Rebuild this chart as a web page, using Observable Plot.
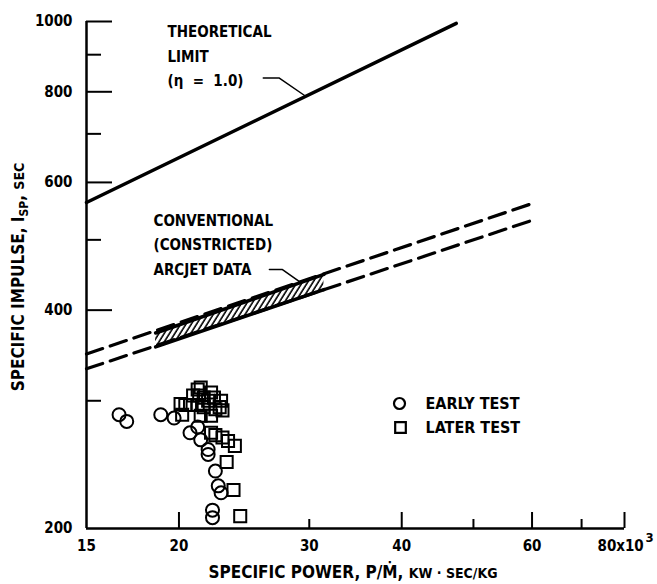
<!DOCTYPE html>
<html><head><meta charset="utf-8">
<script src="https://cdn.jsdelivr.net/npm/d3@7"></script>
<script src="https://cdn.jsdelivr.net/npm/@observablehq/plot@0.6"></script>
<style>body{margin:0;background:#fff}</style>
</head><body><div id="chart"></div>
<script>
// ---- data ----
const earlyX = [16.6, 17.0, 18.9, 19.7, 20.7, 21.2, 21.4, 21.9, 21.9, 22.4, 22.6, 22.8, 22.2, 22.2];
const earlyY = [287, 281, 287, 284, 271, 276, 265, 257, 253, 240, 229, 224, 212, 207];
const laterX = [20.1, 20.4, 20.7, 21.2, 21.6, 20.9, 21.3, 21.2, 21.4, 21.6, 22.3, 22.8, 22.7, 22.9, 22.4, 20.2, 21.4, 22.1, 21.9, 22.1, 22.1, 22.4, 22.9, 23.3, 23.8, 23.2, 23.7, 24.2];
const laterY = [297, 296, 296, 296, 294, 305, 305, 311, 313, 303, 303, 300, 294, 291, 292, 287, 286, 286, 300, 308, 271, 269, 267, 264, 260, 247, 226, 208];
const theoryX = [15, 47.4];
const theoryY = [563, 994];
const arcjetX = [15, 60];
const arcjetUpperY = [348, 561];
const arcjetLowerY = [332, 532];
const bandX = [18.6, 31.4];
const bandUpperY = [372, 448];
const bandLowerY = [356, 427];
const leaderTheory = [[26.0, 836], [27.3, 836], [29.6, 790]];
const leaderArcjet = [[26.5, 455], [27.6, 455], [29.1, 438]];
const xTicksMajor = [20, 40, 60, 80];
const xTicksMinor = [30, 50, 70];
const xTickLabels = [15, 20, 30, 40, 60];
const yTicksMajor = [400, 600, 800, 1000];
const yTicksMinor = [300, 500, 700, 900];
const yTickLabels = [200, 400, 600, 800, 1000];
const legendLabels = ["EARLY TEST", "LATER TEST"];

const early = earlyX.map((x, i) => ({x, y: earlyY[i]}));
const later = laterX.map((x, i) => ({x, y: laterY[i]}));
const theory = theoryX.map((x, i) => ({x, y: theoryY[i]}));
const upper = arcjetX.map((x, i) => ({x, y: arcjetUpperY[i]}));
const lower = arcjetX.map((x, i) => ({x, y: arcjetLowerY[i]}));
const band = bandX.map((x, i) => ({x, hi: bandUpperY[i], lo: bandLowerY[i]}));

const W = 657, H = 584, ML = 86, MR = 33, MT = 21, MB = 56;
const FW = W - ML - MR, FH = H - MT - MB;
const FONT = "'DejaVu Sans Condensed', 'DejaVu Sans', sans-serif";
const NB = "\u00A0";

const plot = Plot.plot({
  width: W, height: H,
  marginLeft: ML, marginRight: MR, marginTop: MT, marginBottom: MB,
  x: {type: "log", domain: [15, 80], axis: null},
  y: {type: "log", domain: [200, 1000], axis: null},
  style: {fontFamily: FONT, fontSize: "15px", fontWeight: "bold", color: "black", background: "white"},
  marks: [
    // hatched band
    Plot.areaY(band, {x: "x", y1: "lo", y2: "hi", fill: "url(#hatch)"}),
    Plot.line(band, {x: "x", y: "hi", stroke: "black", strokeWidth: 3.5}),
    Plot.line(band, {x: "x", y: "lo", stroke: "black", strokeWidth: 3.5}),
    // dashed arcjet lines
    Plot.line(upper, {x: "x", y: "y", stroke: "black", strokeWidth: 3.2, strokeDasharray: "17,8"}),
    Plot.line(lower, {x: "x", y: "y", stroke: "black", strokeWidth: 3.2, strokeDasharray: "17,8"}),
    // theoretical limit
    Plot.line(theory, {x: "x", y: "y", stroke: "black", strokeWidth: 3.5}),
    // leaders
    Plot.line(leaderTheory, {x: d => d[0], y: d => d[1], stroke: "black", strokeWidth: 1.5}),
    Plot.line(leaderArcjet, {x: d => d[0], y: d => d[1], stroke: "black", strokeWidth: 1.5}),
    // axes lines
    Plot.ruleX([15], {stroke: "black", strokeWidth: 2.5}),
    Plot.ruleY([200], {stroke: "black", strokeWidth: 2.5}),
    // inward ticks
    Plot.ruleX(xTicksMajor, {stroke: "black", strokeWidth: 2, insetTop: FH - 16}),
    Plot.ruleX(xTicksMinor, {stroke: "black", strokeWidth: 2, insetTop: FH - 9}),
    Plot.ruleY(yTicksMajor, {stroke: "black", strokeWidth: 2, insetRight: FW - 26}),
    Plot.ruleY(yTicksMinor, {stroke: "black", strokeWidth: 2, insetRight: FW - 15}),
    // tick labels
    Plot.text(xTickLabels, {x: d => d, frameAnchor: "bottom", lineAnchor: "middle", dy: 18, text: d => String(d)}),
    Plot.text([80], {x: d => d, frameAnchor: "bottom", lineAnchor: "middle", dy: 18, textAnchor: "start", dx: -27, text: d => d + "x10"}),
    Plot.text([80], {x: d => d, frameAnchor: "bottom", lineAnchor: "middle", dy: 9, textAnchor: "start", dx: 21, fontSize: 13, text: d => "3"}),
    Plot.text(yTickLabels, {y: d => d, frameAnchor: "left", lineAnchor: "middle", dx: -14, textAnchor: "end", text: d => String(d)}),
    // data
    Plot.dot(early, {x: "x", y: "y", symbol: "circle", r: 6.5, stroke: "black", strokeWidth: 2, fill: "none"}),
    Plot.dot(later, {x: "x", y: "y", symbol: "square", r: 6.8, stroke: "black", strokeWidth: 2, fill: "none"}),
    // annotations
    Plot.text([`THEORETICAL\nLIMIT\n(η${NB}${NB}=${NB}${NB}1.0)`], {frameAnchor: "top-left", dx: 81, dy: -1.5, lineAnchor: "top", textAnchor: "start", lineHeight: 1.62, text: d => d}),
    Plot.text(["CONVENTIONAL\n(CONSTRICTED)\nARCJET DATA"], {frameAnchor: "top-left", dx: 67, dy: 187, lineAnchor: "top", textAnchor: "start", lineHeight: 1.63, text: d => d}),
    // legend
    Plot.dot([legendLabels[0]], {frameAnchor: "top-left", dx: 313, dy: 382, symbol: "circle", r: 5.5, stroke: "black", strokeWidth: 2.2, fill: "none"}),
    Plot.dot([legendLabels[1]], {frameAnchor: "top-left", dx: 314, dy: 406, symbol: "square", r: 6, stroke: "black", strokeWidth: 2.2, fill: "none"}),
    Plot.text([legendLabels[0]], {frameAnchor: "top-left", lineAnchor: "middle", dx: 339, dy: 382, textAnchor: "start", fontSize: 16, text: d => d}),
    Plot.text([legendLabels[1]], {frameAnchor: "top-left", lineAnchor: "middle", dx: 339, dy: 406, textAnchor: "start", fontSize: 16, text: d => d})
  ]
});

const svg = d3.select(plot);
const defs = svg.insert("defs", ":first-child");
const pat = defs.append("pattern").attr("id", "hatch").attr("patternUnits", "userSpaceOnUse")
  .attr("width", 4.5).attr("height", 4.5).attr("patternTransform", "rotate(32)");
pat.append("line").attr("x1", 1).attr("y1", 0).attr("x2", 1).attr("y2", 4.5)
  .attr("stroke", "black").attr("stroke-width", 1.6);

// axis titles
const xt = svg.append("text").attr("x", 353).attr("y", 578).attr("text-anchor", "middle")
  .attr("font-family", FONT).attr("font-weight", "bold").attr("font-size", 17).attr("fill", "black");
xt.append("tspan").text("SPECIFIC POWER, P/\u1E40, ");
xt.append("tspan").attr("font-size", 14).text("KW \u00B7 SEC/KG");

const yt = svg.append("text").attr("transform", "translate(24,277) rotate(-90)").attr("text-anchor", "middle")
  .attr("font-family", FONT).attr("font-weight", "bold").attr("font-size", 17).attr("fill", "black");
yt.append("tspan").text("SPECIFIC IMPULSE, I");
yt.append("tspan").attr("font-size", 12).attr("dy", 4).text("SP");
yt.append("tspan").attr("dy", -4).text(", ");
yt.append("tspan").attr("font-size", 14).text("SEC");

document.getElementById("chart").appendChild(plot);
</script></body></html>
